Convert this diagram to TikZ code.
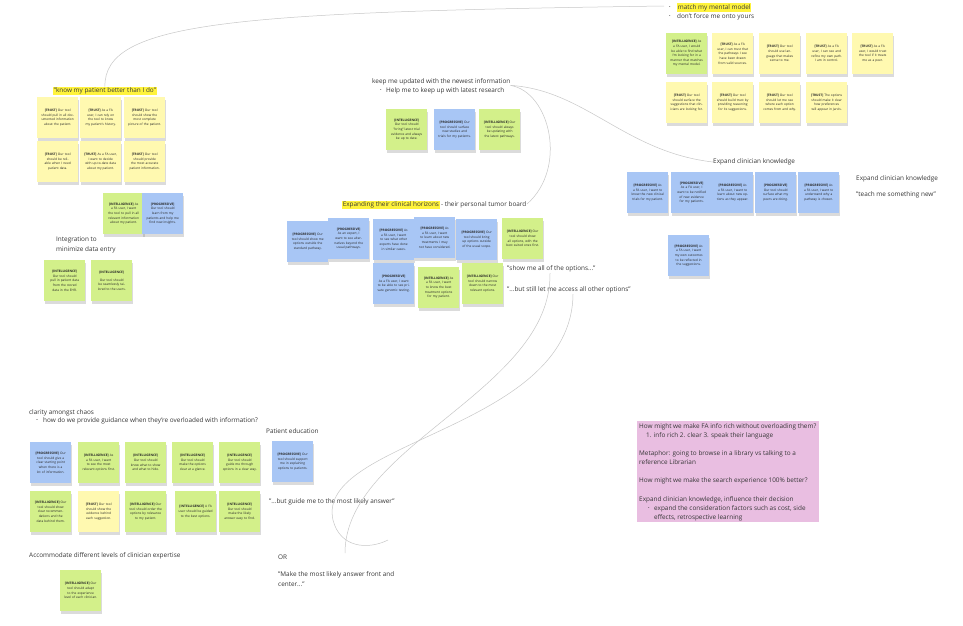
\documentclass[tikz,border=0pt]{standalone}
\usepackage{fontspec}
\setmainfont{Open Sans}
\usetikzlibrary{shadows}
\definecolor{ngreen}{RGB}{211,240,138}
\definecolor{nyellow}{RGB}{255,249,176}
\definecolor{nblue}{RGB}{168,198,245}
\definecolor{npink}{RGB}{233,190,225}
\definecolor{hil}{RGB}{255,243,60}
\definecolor{txtc}{RGB}{55,55,55}
\newcommand{\lblfont}{\fontsize{6.4}{7.5}\selectfont}
\newcommand{\notefont}{\fontsize{3.2}{4.6}\selectfont}
\newcommand{\tg}[1]{\textbf{[#1]}}
\newcommand{\stk}[5]{\node[sticky,fill=#2] (#1) at (#3,#4) {#5};}
\tikzset{
  sticky/.style={anchor=north west, minimum width=41pt, minimum height=41pt,
    text width=34pt, align=center, inner sep=0pt, font=\notefont, text=black!85,
    drop shadow={shadow xshift=1pt, shadow yshift=-2.5pt, opacity=0.28}},
  lbl/.style={anchor=west, inner sep=0pt, font=\lblfont, text=txtc},
  hl/.style={lbl, fill=hil, inner xsep=0.6pt, inner ysep=1pt},
  curve/.style={draw=black!22, line width=0.5pt}
}
\begin{document}
\begin{tikzpicture}[x=1pt,y=-1pt]
\useasboundingbox[fill=white] (0,0) rectangle (963,625);

\coordinate (c0) at (664,6);

% ---------- top right ----------
\node[lbl] (b1) at (669,7.5) {\fontsize{4}{4}\selectfont •};
\node[hl] (match) at (677,7.5) {match my mental model};
\node[lbl] (b2) at (669,16.5) {\fontsize{4}{4}\selectfont •};
\node[lbl] (force) at (677,16.5) {don't force me onto yours};

\stk{tr1}{ngreen}{666}{33}{\tg{INTELLIGENCE} As a FA user, I would be able to find what I'm looking for in a manner that matches my mental model.}
\stk{tr2}{nyellow}{712}{33}{\tg{TRUST} As a FA user, I can trust that the pathways I see have been drawn from valid sources.}
\stk{tr3}{nyellow}{759}{33}{\tg{TRUST} Our tool should use language that makes sense to me.}
\stk{tr4}{nyellow}{806}{33}{\tg{TRUST} As a FA user, I can see and refine my own path. I am in control.}
\stk{tr5}{nyellow}{852}{33}{\tg{TRUST} As a FA user, I would trust the tool if it treats me as a peer.}
\stk{tr6}{nyellow}{666}{82}{\tg{TRUST} Our tool should surface the suggestions that clinicians are looking for.}
\stk{tr7}{nyellow}{712}{82}{\tg{TRUST} Our tool should build trust by providing reasoning for its suggestions.}
\stk{tr8}{nyellow}{759}{82}{\tg{TRUST} Our tool should let me see where each option comes from and why.}
\stk{tr9}{nyellow}{806}{82}{\tg{TRUST} The options should make it clear how preferences will appear in Jarvis.}

% ---------- left cluster ----------
\node[hl] (know) at (53,91) {"know my patient better than I do"};
\stk{l1}{nyellow}{37}{97}{\tg{TRUST} Our tool should pull in all documented information about the patient.}
\stk{l2}{nyellow}{80}{97}{\tg{TRUST} As a FA user, I can rely on the tool to know my patient's history.}
\stk{l3}{nyellow}{124}{97}{\tg{TRUST} Our tool should show the most complete picture of the patient.}
\stk{l4}{nyellow}{37}{141}{\tg{TRUST} Our tool should be reliable when I need patient data.}
\stk{l5}{nyellow}{80}{141}{\tg{TRUST} As a FA user, I want to decide with up-to-date data about my patient.}
\stk{l6}{nyellow}{124}{141}{\tg{TRUST} Our tool should provide the most accurate patient information.}
\stk{l7}{ngreen}{103}{193}{\tg{INTELLIGENCE} As a FA user, I want the tool to pull in all relevant information about my patient.}
\stk{l8}{nblue}{142}{193}{\tg{PROGRESSIVE} Our tool should learn from my patients and help me find new insights.}

% ---------- integration ----------
\node[lbl] (integ1) at (56,240) {Integration to};
\node[lbl] (integ2) at (56,250) {minimize data entry};
\stk{i1}{ngreen}{44}{260}{\tg{INTELLIGENCE} Our tool should pull in patient data from the stored data in the EHR.}
\stk{i2}{ngreen}{91}{260}{\tg{INTELLIGENCE}\\[3pt] Our tool should be seamlessly tailored to the users.}

% ---------- keep me updated ----------
\node[lbl] (keep) at (372,82) {keep me updated with the newest information};
\node[lbl] (b3) at (380,91) {\fontsize{4}{4}\selectfont •};
\node[lbl] (help) at (386,91) {Help me to keep up with latest research};
\stk{k1}{ngreen}{386}{109}{\tg{INTELLIGENCE} Our tool should "bring" latest trial evidence and always be up to date.}
\stk{k2}{nblue}{434}{109}{\tg{PROGRESSIVE} Our tool should surface new studies and trials for my patients.}
\stk{k3}{ngreen}{479}{109}{\tg{INTELLIGENCE} Our tool should always be updating with the latest pathways.}

% ---------- expanding horizons ----------
\node[hl] (expand) at (342,205) {Expanding their clinical horizons};
\node[lbl] (board) at (expand.east) [anchor=west] {\,- their personal tumor board};
\stk{e1}{nblue}{287}{221}{\tg{PROGRESSIVE} Our tool should show me options outside the standard pathway.}
\stk{e2}{nblue}{328}{218}{\tg{PROGRESSIVE}\\ As an expert, I want to see alternatives beyond the usual pathways.}
\stk{e3}{nblue}{373}{219}{\tg{PROGRESSIVE} As a FA user, I want to see what other experts have done in similar cases.}
\stk{e4}{nblue}{414}{217}{\tg{PROGRESSIVE} As a FA user, I want to learn about new treatments I may not have considered.}
\stk{e5}{nblue}{456}{219}{\tg{PROGRESSIVE} Our tool should bring up options outside of the usual scope.}
\stk{e6}{ngreen}{502}{218}{\tg{INTELLIGENCE} Our tool should show all options, with the best suited ones first.}
\stk{e7}{nblue}{373}{263}{\tg{PROGRESSIVE}\\ As a FA user, I want to be able to see private genomic testing.}
\stk{e8}{ngreen}{418}{267}{\tg{INTELLIGENCE} As a FA user, I want to know the best treatment options for my patient.}
\stk{e9}{ngreen}{462}{263}{\tg{INTELLIGENCE} Our tool should narrow down to the most relevant options.}
\node[lbl] (show) at (507,269) {"show me all of the options..."};
\node[lbl] (still) at (507,290) {"...but still let me access all other options"};

% ---------- expand clinician knowledge ----------
\node[lbl] (eck) at (713,162) {Expand clinician knowledge};
\stk{x1}{nblue}{627}{172}{\tg{PROGRESSIVE} As a FA user, I want to know the new clinical trials for my patient.}
\stk{x2}{nblue}{671}{172}{\tg{PROGRESSIVE} As a FA user, I want to be notified of new evidence for my patients.}
\stk{x3}{nblue}{712}{172}{\tg{PROGRESSIVE} As a FA user, I want to learn about new options as they appear.}
\stk{x4}{nblue}{755}{172}{\tg{PROGRESSIVE} Our tool should surface what my peers are doing.}
\stk{x5}{nblue}{798}{172}{\tg{PROGRESSIVE} As a FA user, I want to understand why a pathway is chosen.}
\stk{x6}{nblue}{668}{235}{\tg{PROGRESSIVE} As a FA user, I want my own outcomes to be reflected in the suggestions.}
\node[lbl] (eck2) at (856,179) {Expand clinician knowledge};
\node[lbl] (teach) at (856,195) {"teach me something new"};

% ---------- clarity amongst chaos ----------
\node[lbl] (clar) at (29,413) {clarity amongst chaos};
\node[lbl] (dash) at (36,421) {-};
\node[lbl] (how) at (43,421) {how do we provide guidance when they're overloaded with information?};
\stk{c1}{nblue}{30}{442}{\tg{PROGRESSIVE} Our tool should give a clear starting point when there is a lot of information.}
\stk{c2}{ngreen}{78}{442}{\tg{INTELLIGENCE} As a FA user, I want to see the most relevant options first.}
\stk{c3}{ngreen}{125}{442}{\tg{INTELLIGENCE} Our tool should know what to show and what to hide.}
\stk{c4}{ngreen}{172}{442}{\tg{INTELLIGENCE} Our tool should make the options clear at a glance.}
\stk{c5}{ngreen}{219}{442}{\tg{INTELLIGENCE} Our tool should guide me through options in a clear way.}
\node[lbl] (pat) at (266,431) {Patient education};
\stk{pe}{nblue}{272}{441}{\tg{PROGRESSIVE} Our tool should support me in explaining options to patients.}
\stk{c6}{ngreen}{30}{491}{\tg{INTELLIGENCE} Our tool should show clear recommendations and the data behind them.}
\stk{c7}{nyellow}{78}{491}{\tg{TRUST} Our tool should show the evidence behind each suggestion.}
\stk{c8}{ngreen}{125}{491}{\tg{INTELLIGENCE} Our tool should order the options by relevance to my patient.}
\stk{c9}{ngreen}{175}{491}{\tg{INTELLIGENCE} A FA user should be guided to the best options.}
\stk{c10}{ngreen}{219}{491}{\tg{INTELLIGENCE} Our tool should make the likely answer easy to find.}
\node[lbl] (guide) at (269,502) {"...but guide me to the most likely answer"};
\node[lbl] (or) at (278,557) {OR};
\node[lbl] (make1) at (278,575) {"Make the most likely answer front and};
\node[lbl] (make2) at (278,584) {center..."};

% ---------- accommodate ----------
\node[lbl] (acc) at (29,556) {Accommodate different levels of clinician expertise};
\stk{a1}{ngreen}{60}{570}{\tg{INTELLIGENCE} Our tool should adapt to the experience level of each clinician.}

% ---------- pink box ----------
\node[fill=npink, minimum width=182pt, minimum height=101pt, anchor=north west, inner sep=0pt] (pink) at (637,421) {};
\node[lbl] (p1) at (639,426.5) {How might we make FA info rich without overloading them?};
\node[lbl] (p2) at (646,435.5) {1. info rich 2. clear 3. speak their language};
\node[lbl] (p3) at (639,453.5) {Metaphor: going to browse in a library vs talking to a};
\node[lbl] (p4) at (639,462.5) {reference Librarian};
\node[lbl] (p5) at (639,481) {How might we make the search experience 100\% better?};
\node[lbl] (p6) at (639,499.5) {Expand clinician knowledge, influence their decision};
\node[lbl] (b4) at (648,508.5) {\fontsize{4}{4}\selectfont •};
\node[lbl] (p7) at (654,508.5) {expand the consideration factors such as cost, side};
\node[lbl] (p8) at (654,517.5) {effects, retrospective learning};

% ---------- connectors ----------
\coordinate (bend) at (527,204);
\coordinate (s1) at (550,273);
\coordinate (s2) at (345,553);
\coordinate (t1) at (573,294);
\coordinate (t2) at (388,540);
\draw[curve] (c0) .. controls (230,12) and (104,22) .. (know.north);
\draw[curve] (keep.south east) .. controls (550,92) and (568,168) .. (bend);
\draw[curve] (keep.south east) .. controls (585,90) and (625,152) .. (eck.west);
\draw[curve] (s1) .. controls (552,390) and (345,445) .. (s2);
\draw[curve] (t1) .. controls (572,430) and (315,440) .. (333,520) .. controls (340,548) and (368,550) .. (t2);
\end{tikzpicture}
\end{document}
